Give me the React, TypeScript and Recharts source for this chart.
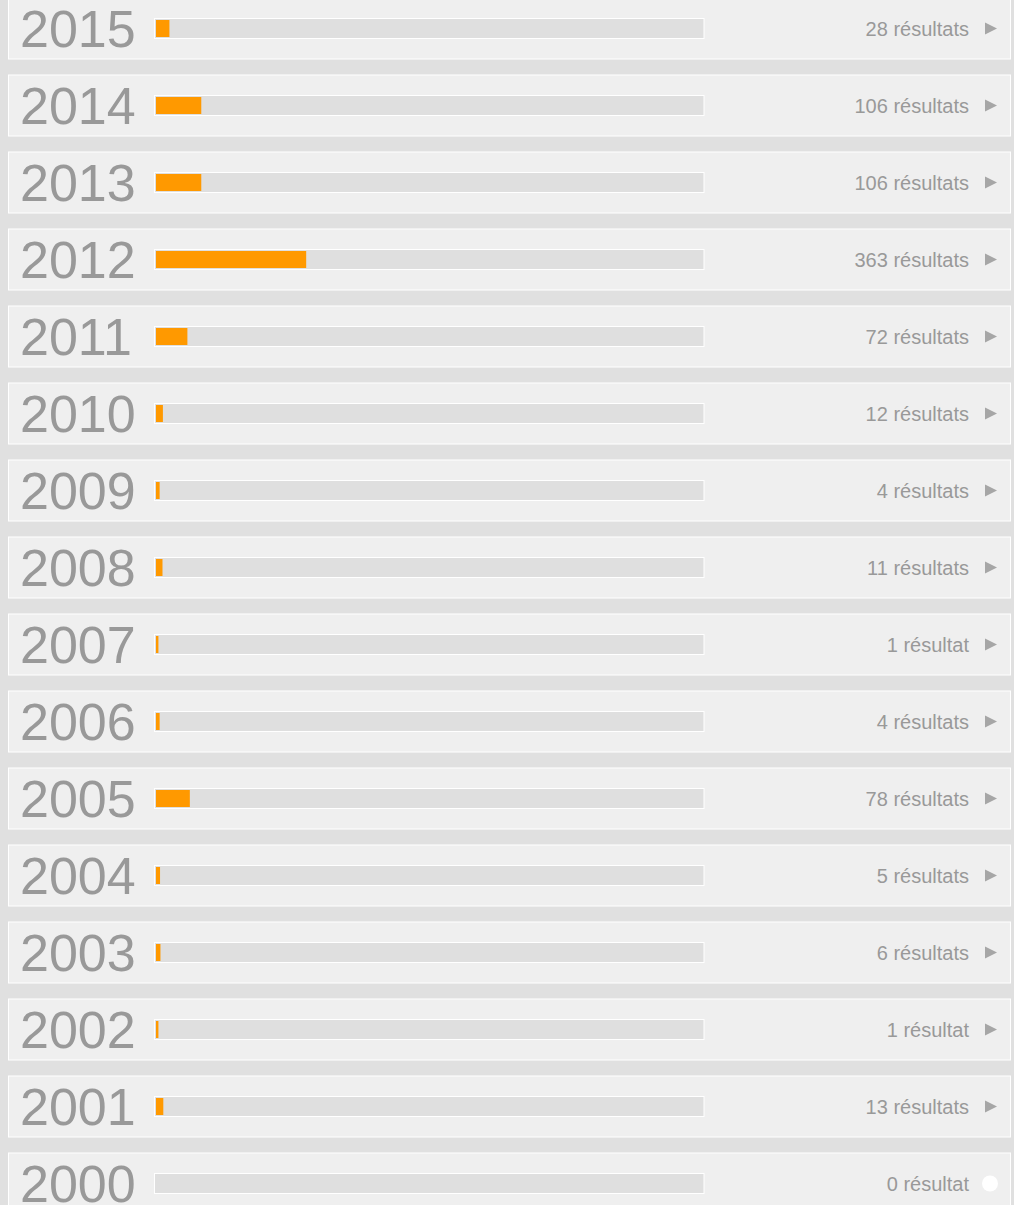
import { BarChart, Bar, XAxis, YAxis } from "recharts";

const years = ["2015", "2014", "2013", "2012", "2011", "2010", "2009", "2008", "2007", "2006", "2005", "2004", "2003", "2002", "2001", "2000"];
const counts = [28, 106, 106, 363, 72, 12, 4, 11, 1, 4, 78, 5, 6, 1, 13, 0];

const data = years.map((year, i) => ({ year, count: counts[i] }));

const FONT = '"Liberation Sans", Arial, sans-serif';

const countOf = (year: string) => counts[years.indexOf(year)];

const resultLabel = (n: number) => (n > 1 ? `${n} résultats` : `${n} résultat`);

// panel + empty track behind each bar
function RowBackground(props: any) {
  const { x, y, width, height } = props;
  const c = y + height / 2;
  return (
    <g>
      <rect x={8.5} y={c - 30.5} width={1002} height={61} fill="#efefef" stroke="#ffffff" strokeWidth={1} />
      <rect x={x - 1.5} y={y - 1.5} width={width + 2.5} height={height + 3} fill="#dfdfdf" stroke="#ffffff" strokeWidth={1} />
    </g>
  );
}

function OrangeBar(props: any) {
  const { x, y, width, height, value } = props;
  const v = Array.isArray(value) ? value[1] - value[0] : value;
  if (!v) return null;
  return <rect x={x} y={y} width={width + 2} height={height} fill="#ff9900" />;
}

function YearTick(props: any) {
  const { y, payload } = props;
  return (
    <text x={20} y={y + 18} fontSize={52} fill="#999999" fontFamily={FONT} textAnchor="start">
      {payload.value}
    </text>
  );
}

function CountTick(props: any) {
  const { y, payload } = props;
  const n = countOf(payload.value);
  return (
    <g>
      <text x={969} y={y + 7} fontSize={20} fill="#999999" fontFamily={FONT} textAnchor="end">
        {resultLabel(n)}
      </text>
      {n > 0 ? (
        <polygon points={`985,${y - 6} 985,${y + 6} 997,${y}`} fill="#a6a6a6" />
      ) : (
        <circle cx={990} cy={y} r={8} fill="#ffffff" />
      )}
    </g>
  );
}

export default function App() {
  return (
    <div
      style={{
        position: "absolute",
        left: 0,
        top: 0,
        width: 1014,
        height: 1205,
        overflow: "hidden",
        background: "#e0e0e0",
      }}
    >
      <div style={{ position: "absolute", left: 0, top: -10 }}>
        <BarChart
          width={1014}
          height={1232}
          data={data}
          layout="vertical"
          margin={{ top: 0, right: 0, bottom: 0, left: 0 }}
          barCategoryGap={0}
        >
          <XAxis type="number" domain={[0, 1340]} hide />
          <YAxis
            yAxisId="left"
            type="category"
            dataKey="year"
            width={156}
            axisLine={false}
            tickLine={false}
            tick={<YearTick />}
            interval={0}
          />
          <YAxis
            yAxisId="right"
            orientation="right"
            type="category"
            dataKey="year"
            width={311}
            axisLine={false}
            tickLine={false}
            tick={<CountTick />}
            interval={0}
          />
          <Bar
            yAxisId="left"
            dataKey="count"
            barSize={17}
            background={<RowBackground />}
            shape={<OrangeBar />}
            isAnimationActive={false}
          />
        </BarChart>
      </div>
    </div>
  );
}
